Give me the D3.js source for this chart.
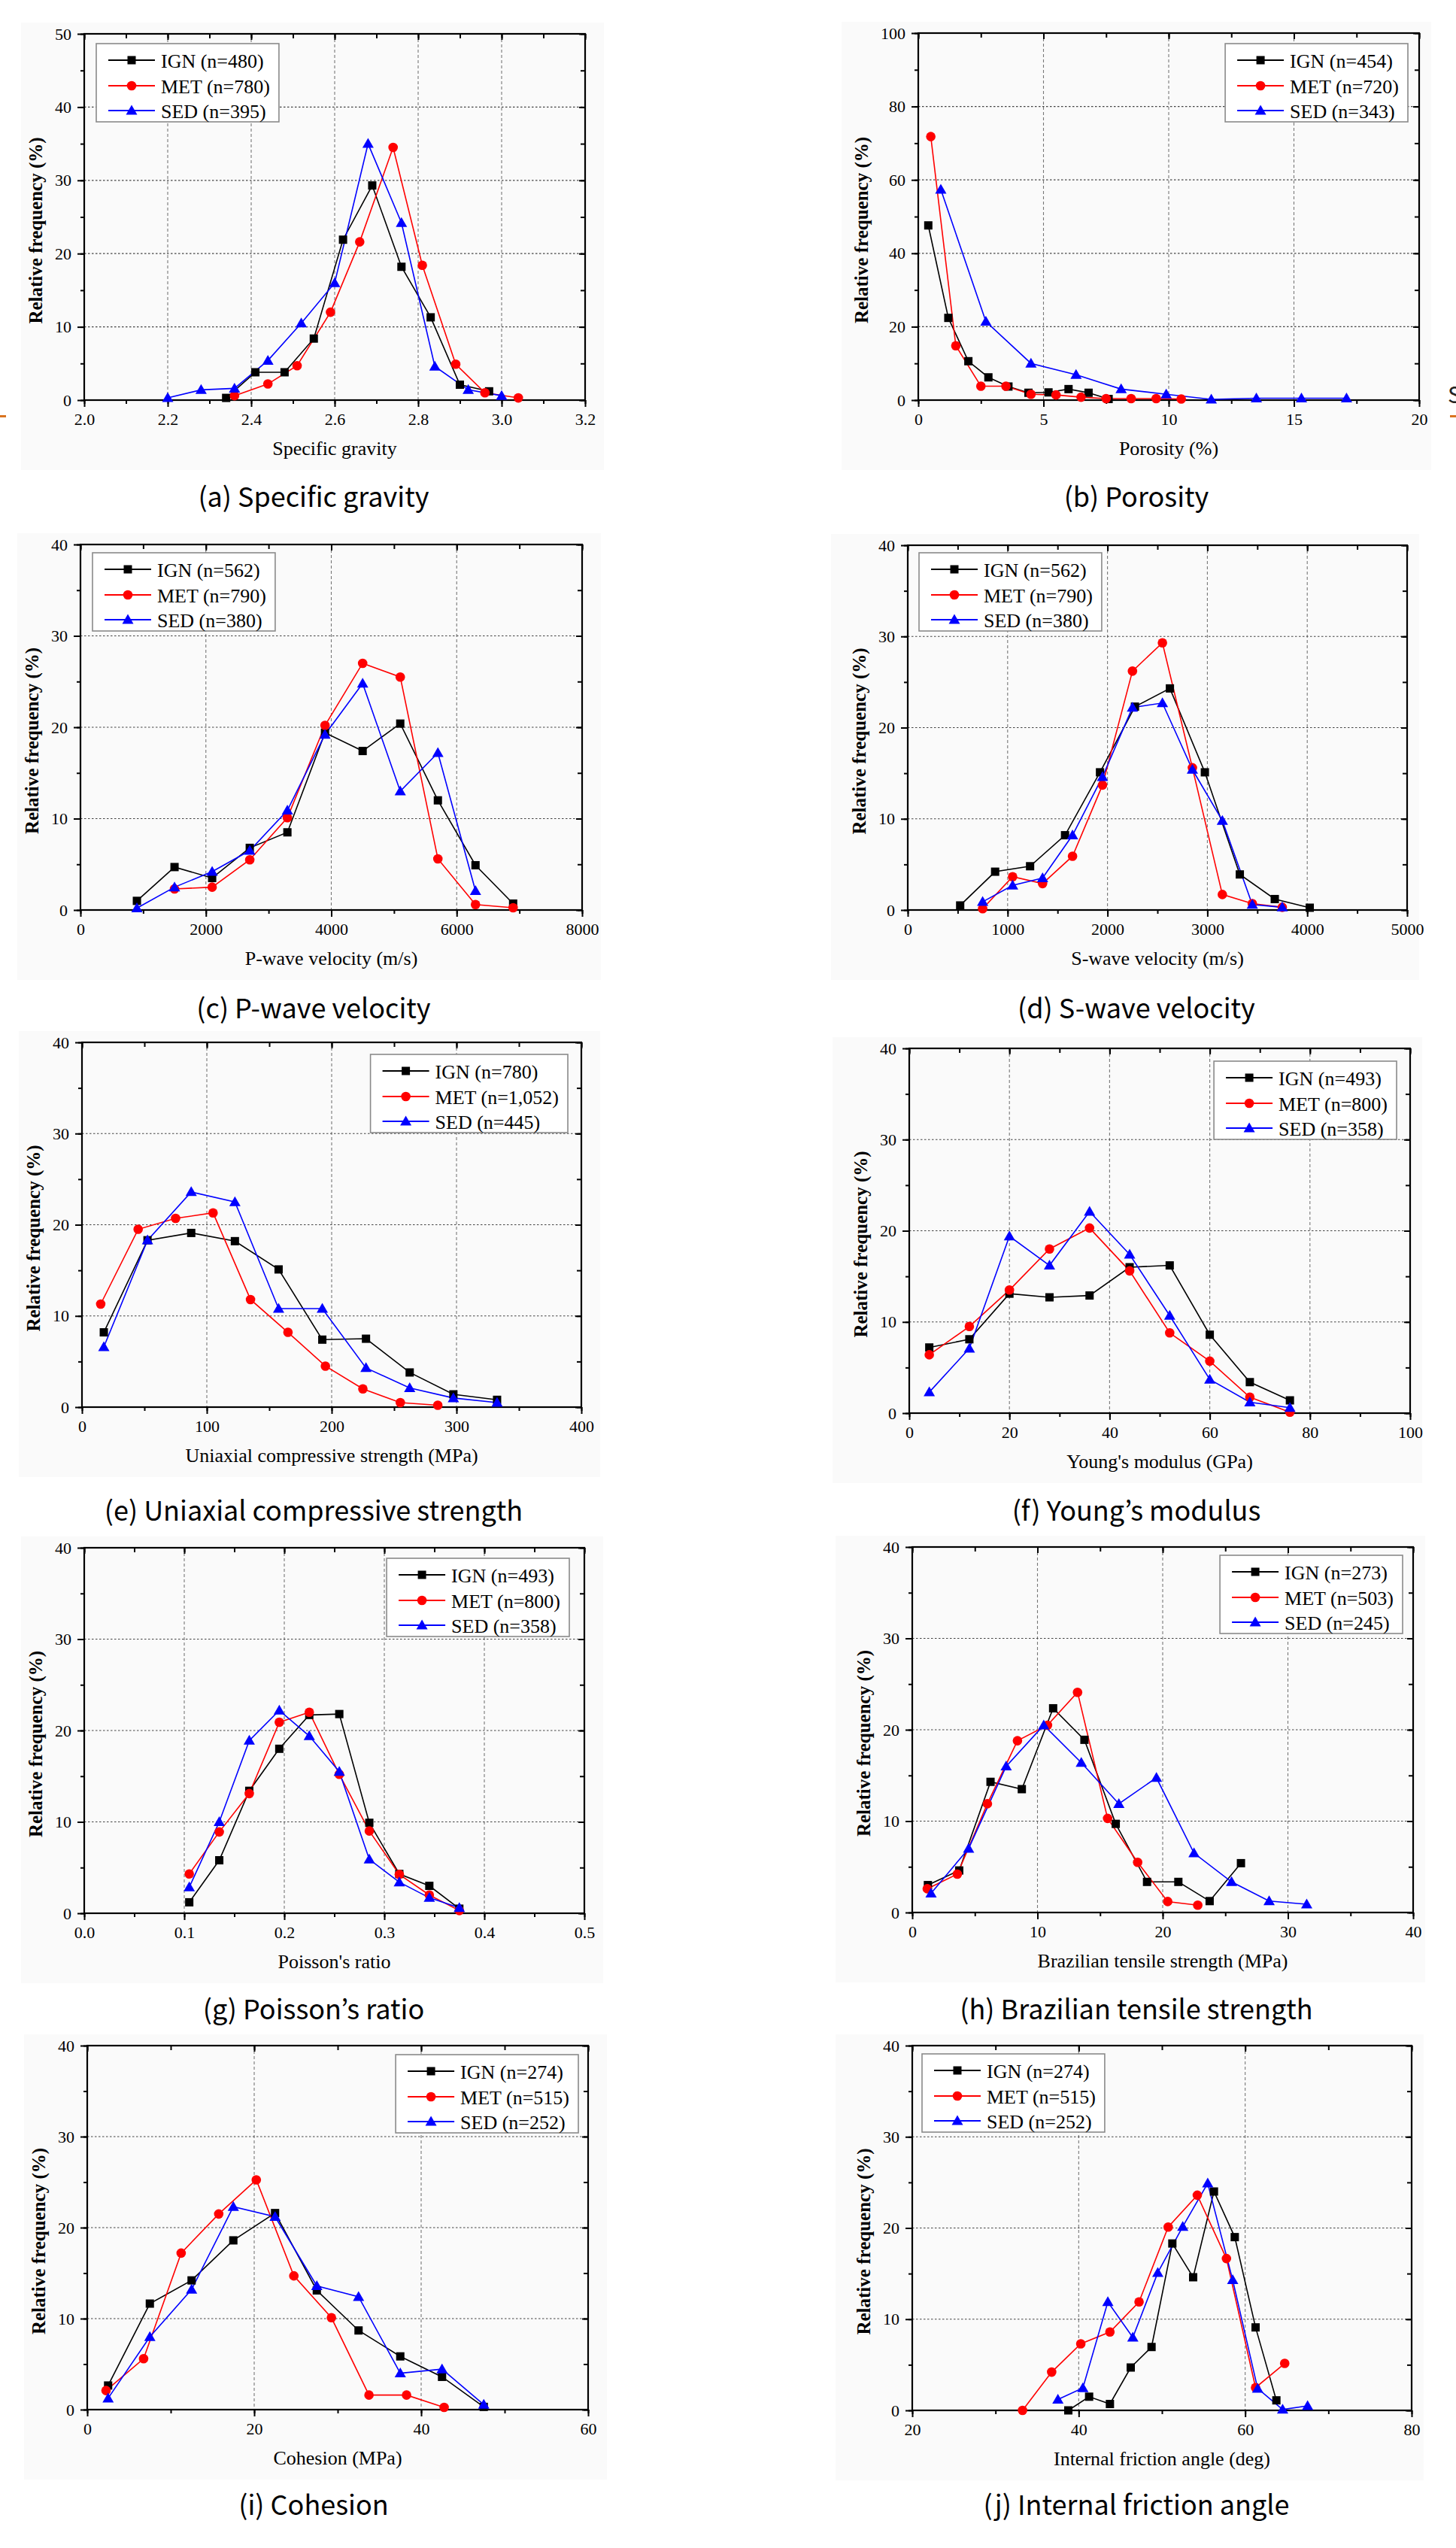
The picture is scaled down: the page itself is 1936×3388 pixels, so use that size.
<!DOCTYPE html>
<html><head><meta charset="utf-8">
<script src="https://cdn.jsdelivr.net/npm/d3@7"></script>
<style>html,body{margin:0;padding:0;background:#fff;} svg{display:block}</style>
</head><body><svg id="chart" width="1936" height="3388"></svg>
<script>
// ---------------- DATA ----------------
const seriesNames = ["IGN", "MET", "SED"];

// (a) Specific gravity
const sg_n = [480, 780, 395];
const sg_IGN = [[2.34,0.3],[2.41,3.8],[2.48,3.8],[2.55,8.4],[2.62,21.9],[2.69,29.3],[2.76,18.2],[2.83,11.3],[2.90,2.1],[2.97,1.2]];
const sg_MET = [[2.36,0.6],[2.44,2.2],[2.51,4.7],[2.59,12.0],[2.66,21.6],[2.74,34.5],[2.81,18.4],[2.89,4.9],[2.96,1.0],[3.04,0.3]];
const sg_SED = [[2.20,0.3],[2.28,1.4],[2.36,1.6],[2.44,5.4],[2.52,10.5],[2.60,16.0],[2.68,35.0],[2.76,24.2],[2.84,4.6],[2.92,1.4],[3.00,0.6]];
const sg_xticks = [2.0,2.2,2.4,2.6,2.8,3.0,3.2];
const sg_yticks = [0,10,20,30,40,50];

// (b) Porosity
const po_n = [454, 720, 343];
const po_IGN = [[0.4,47.6],[1.2,22.4],[2.0,10.6],[2.8,6.2],[3.6,3.7],[4.4,2.0],[5.2,2.1],[6.0,3.0],[6.8,2.0],[7.6,0.3]];
const po_MET = [[0.5,71.8],[1.5,14.8],[2.5,3.8],[3.5,3.8],[4.5,1.6],[5.5,1.4],[6.5,0.8],[7.5,0.4],[8.5,0.4],[9.5,0.4],[10.5,0.3]];
const po_SED = [[0.9,57.4],[2.7,21.4],[4.5,10.0],[6.3,6.9],[8.1,3.0],[9.9,1.6],[11.7,0.2],[13.5,0.5],[15.3,0.5],[17.1,0.5]];
const po_xticks = [0,5,10,15,20];
const po_yticks = [0,20,40,60,80,100];

// (c) P-wave velocity
const vp_n = [562, 790, 380];
const vp_IGN = [[900,1.0],[1500,4.7],[2100,3.5],[2700,6.8],[3300,8.5],[3900,19.4],[4500,17.4],[5100,20.4],[5700,12.0],[6300,4.9],[6900,0.7]];
const vp_MET = [[1500,2.3],[2100,2.5],[2700,5.5],[3300,10.1],[3900,20.2],[4500,27.0],[5100,25.5],[5700,5.6],[6300,0.6],[6900,0.25]];
const vp_SED = [[900,0.2],[1500,2.5],[2100,4.2],[2700,6.5],[3300,10.9],[3900,19.2],[4500,24.8],[5100,13.0],[5700,17.2],[6300,2.1]];
const vp_xticks = [0,2000,4000,6000,8000];
const vp_yticks = [0,10,20,30,40];

// (d) S-wave velocity
const vs_n = [562, 790, 380];
const vs_IGN = [[525,0.5],[875,4.2],[1225,4.8],[1575,8.2],[1925,15.1],[2275,22.3],[2625,24.3],[2975,15.1],[3325,3.9],[3675,1.2],[4025,0.25]];
const vs_MET = [[750,0.15],[1050,3.65],[1350,2.9],[1650,5.9],[1950,13.7],[2250,26.2],[2550,29.3],[2850,15.6],[3150,1.7],[3450,0.7],[3750,0.3]];
const vs_SED = [[750,0.9],[1050,2.7],[1350,3.5],[1650,8.2],[1950,14.6],[2250,22.2],[2550,22.7],[2850,15.4],[3150,9.8],[3450,0.6],[3750,0.3]];
const vs_xticks = [0,1000,2000,3000,4000,5000];
const vs_yticks = [0,10,20,30,40];

// (e) Uniaxial compressive strength
const ucs_n = ["780", "1,052", "445"];
const ucs_IGN = [[17.5,8.2],[52.5,18.3],[87.5,19.1],[122.5,18.2],[157.5,15.1],[192.5,7.4],[227.5,7.5],[262.5,3.8],[297.5,1.4],[332.5,0.8]];
const ucs_MET = [[15,11.3],[45,19.5],[75,20.7],[105,21.3],[135,11.8],[165,8.2],[195,4.5],[225,2.0],[255,0.5],[285,0.2]];
const ucs_SED = [[17.5,6.6],[52.5,18.3],[87.5,23.6],[122.5,22.5],[157.5,10.8],[192.5,10.8],[227.5,4.3],[262.5,2.1],[297.5,1.0],[332.5,0.5]];
const ucs_xticks = [0,100,200,300,400];
const ucs_yticks = [0,10,20,30,40];

// (f) Young's modulus
const ym_n = [493, 800, 358];
const ym_IGN = [[4,7.2],[12,8.1],[20,13.1],[28,12.7],[36,12.9],[44,16.0],[52,16.2],[60,8.6],[68,3.4],[76,1.4]];
const ym_MET = [[4,6.4],[12,9.5],[20,13.5],[28,18.0],[36,20.3],[44,15.6],[52,8.8],[60,5.7],[68,1.75],[76,0.1]];
const ym_SED = [[4,2.3],[12,7.1],[20,19.4],[28,16.2],[36,22.1],[44,17.4],[52,10.7],[60,3.7],[68,1.2],[76,0.6]];
const ym_xticks = [0,20,40,60,80,100];
const ym_yticks = [0,10,20,30,40];

// (g) Poisson's ratio
const pr_n = [493, 800, 358];
const pr_IGN = [[0.105,1.2],[0.135,5.8],[0.165,13.4],[0.195,18.0],[0.225,21.7],[0.255,21.8],[0.285,9.9],[0.315,4.3],[0.345,3.0],[0.375,0.5]];
const pr_MET = [[0.105,4.3],[0.135,8.9],[0.165,13.1],[0.195,20.9],[0.225,22.0],[0.255,15.2],[0.285,9.0],[0.315,4.25],[0.345,2.0],[0.375,0.3]];
const pr_SED = [[0.105,2.85],[0.135,10.0],[0.165,18.9],[0.195,22.2],[0.225,19.4],[0.255,15.5],[0.285,5.9],[0.315,3.4],[0.345,1.7],[0.375,0.6]];
const pr_xticks = [0.0,0.1,0.2,0.3,0.4,0.5];
const pr_yticks = [0,10,20,30,40];

// (h) Brazilian tensile strength
const bts_n = [273, 503, 245];
const bts_IGN = [[1.25,3.0],[3.75,4.6],[6.25,14.3],[8.75,13.5],[11.25,22.35],[13.75,18.9],[16.25,9.7],[18.75,3.35],[21.25,3.35],[23.75,1.25],[26.25,5.4]];
const bts_MET = [[1.2,2.6],[3.6,4.2],[6.0,11.9],[8.4,18.8],[10.8,20.5],[13.2,24.1],[15.6,10.3],[18.0,5.5],[20.4,1.2],[22.8,0.8]];
const bts_SED = [[1.5,2.1],[4.5,7.0],[7.5,16.0],[10.5,20.5],[13.5,16.4],[16.5,11.9],[19.5,14.75],[22.5,6.5],[25.5,3.35],[28.5,1.25],[31.5,0.9]];
const bts_xticks = [0,10,20,30,40];
const bts_yticks = [0,10,20,30,40];

// (i) Cohesion
const co_n = [274, 515, 252];
const co_IGN = [[2.5,2.65],[7.5,11.65],[12.5,14.2],[17.5,18.6],[22.5,21.6],[27.5,13.1],[32.5,8.7],[37.5,5.85],[42.5,3.6],[47.5,0.3]];
const co_MET = [[2.25,2.1],[6.75,5.6],[11.25,17.2],[15.75,21.5],[20.25,25.25],[24.75,14.7],[29.25,10.1],[33.75,1.6],[38.25,1.6],[42.75,0.25]];
const co_SED = [[2.5,1.25],[7.5,8.0],[12.5,13.2],[17.5,22.3],[22.5,21.2],[27.5,13.6],[32.5,12.4],[37.5,4.0],[42.5,4.45],[47.5,0.55]];
const co_xticks = [0,20,40,60];
const co_yticks = [0,10,20,30,40];

// (j) Internal friction angle
const fa_n = [274, 515, 252];
const fa_IGN = [[38.75,0],[41.25,1.5],[43.75,0.7],[46.25,4.7],[48.75,6.95],[51.25,18.3],[53.75,14.6],[56.25,24.0],[58.75,19.0],[61.25,9.1],[63.75,1.1]];
const fa_MET = [[33.25,0],[36.75,4.2],[40.25,7.3],[43.75,8.6],[47.25,11.9],[50.75,20.1],[54.25,23.6],[57.75,16.65],[61.25,2.5],[64.75,5.15]];
const fa_SED = [[37.5,1.2],[40.5,2.45],[43.5,11.9],[46.5,8.0],[49.5,15.1],[52.5,20.15],[55.5,24.9],[58.5,14.3],[61.5,2.4],[64.5,0.1],[67.5,0.5]];
const fa_xticks = [20,40,60,80];
const fa_yticks = [0,10,20,30,40];

const xTitles = ["Specific gravity","Porosity (%)","P-wave velocity (m/s)","S-wave velocity (m/s)",
  "Uniaxial compressive strength (MPa)","Young's modulus (GPa)","Poisson's ratio",
  "Brazilian tensile strength (MPa)","Cohesion (MPa)","Internal friction angle (deg)"];
const captions = ["(a) Specific gravity","(b) Porosity","(c) P-wave velocity","(d) S-wave velocity",
  "(e) Uniaxial compressive strength","(f) Young\u2019s modulus","(g) Poisson\u2019s ratio",
  "(h) Brazilian tensile strength","(i) Cohesion","(j) Internal friction angle"];

// ---------------- LAYOUT / STYLE ----------------
const SERIF = "'Liberation Serif','Times New Roman',serif";
const SANS = "'Noto Sans CJK KR','Noto Sans',sans-serif";
const colors = {IGN:"#000000", MET:"#ff0000", SED:"#0000ff"};

const panels = [
  {rect:[112,45,778,532],  xt:sg_xticks,  yt:sg_yticks,  minorX:0.1,  minorY:5,  fmt:".1f", s:[sg_IGN,sg_MET,sg_SED],   n:sg_n,  leg:["L",16,13], cap:142},
  {rect:[1221,44,1887,532],xt:po_xticks,  yt:po_yticks,  minorX:2.5,  minorY:10, fmt:"d",   s:[po_IGN,po_MET,po_SED],   n:po_n,  leg:["R",15,14], cap:142},
  {rect:[107,724,774,1210],xt:vp_xticks,  yt:vp_yticks,  minorX:1000, minorY:5,  fmt:"d",   s:[vp_IGN,vp_MET,vp_SED],   n:vp_n,  leg:["L",16,11], cap:144},
  {rect:[1207,725,1871,1210],xt:vs_xticks,yt:vs_yticks,  minorX:500,  minorY:5,  fmt:"d",   s:[vs_IGN,vs_MET,vs_SED],   n:vs_n,  leg:["L",15,10], cap:144},
  {rect:[109,1386,773,1871],xt:ucs_xticks,yt:ucs_yticks, minorX:50,   minorY:5,  fmt:"d",   s:[ucs_IGN,ucs_MET,ucs_SED],n:ucs_n, leg:["R",18,16], cap:151},
  {rect:[1209,1394,1875,1879],xt:ym_xticks,yt:ym_yticks, minorX:10,   minorY:5,  fmt:"d",   s:[ym_IGN,ym_MET,ym_SED],   n:ym_n,  leg:["R",18,17], cap:143},
  {rect:[112,2058,777,2544],xt:pr_xticks, yt:pr_yticks,  minorX:0.05, minorY:5,  fmt:".1f", s:[pr_IGN,pr_MET,pr_SED],   n:pr_n,  leg:["R",20,14], cap:141},
  {rect:[1213,2057,1879,2543],xt:bts_xticks,yt:bts_yticks,minorX:5,   minorY:5,  fmt:"d",   s:[bts_IGN,bts_MET,bts_SED],n:bts_n, leg:["R",14,11], cap:142},
  {rect:[116,2720,782,3204],xt:co_xticks, yt:co_yticks,  minorX:10,   minorY:5,  fmt:"d",   s:[co_IGN,co_MET,co_SED],   n:co_n,  leg:["R",13,12], cap:140},
  {rect:[1213,2720,1877,3205],xt:fa_xticks,yt:fa_yticks, minorX:10,   minorY:5,  fmt:"d",   s:[fa_IGN,fa_MET,fa_SED],   n:fa_n,  leg:["L",13,11], cap:139}
];

const svg = d3.select("#chart");
svg.append("rect").attr("width",1936).attr("height",3388).attr("fill","#fff");

function marker(g, name, x, y) {
  if (name === "IGN") {
    g.append("rect").attr("x",x-5.5).attr("y",y-5.5).attr("width",11).attr("height",11).attr("fill",colors.IGN);
  } else if (name === "MET") {
    g.append("circle").attr("cx",x).attr("cy",y).attr("r",6.3).attr("fill",colors.MET);
  } else {
    g.append("path").attr("d",`M${x},${y-7.5}L${x+7.5},${y+5.5}L${x-7.5},${y+5.5}Z`).attr("fill",colors.SED);
  }
}

function range(a, b, step) {
  const out = []; const k = Math.round((b - a) / step);
  for (let i = 0; i <= k; i++) out.push(+(a + i * step).toFixed(6));
  return out;
}

panels.forEach((p, i) => {
  const [L, T, R, B] = p.rect;
  const W = R - L, H = B - T;
  const leftCol = (i % 2 === 0);
  // faint figure background
  const bgL = leftCol ? L - 84 : L - 102, bgR = leftCol ? R + 25 : R + 16;
  svg.append("rect").attr("x",bgL).attr("y",T-15).attr("width",bgR-bgL).attr("height",H+108).attr("fill","#fafafa");

  const x = d3.scaleLinear().domain([p.xt[0], p.xt[p.xt.length-1]]).range([L, R]);
  const y = d3.scaleLinear().domain([p.yt[0], p.yt[p.yt.length-1]]).range([B, T]);
  const g = svg.append("g");

  // grid
  p.xt.slice(1, -1).forEach(v => {
    g.append("line").attr("x1",x(v)).attr("x2",x(v)).attr("y1",T).attr("y2",B)
      .attr("stroke","#777").attr("stroke-width",1.1).attr("stroke-dasharray","4,3");
  });
  p.yt.slice(1, -1).forEach(v => {
    g.append("line").attr("x1",L).attr("x2",R).attr("y1",y(v)).attr("y2",y(v))
      .attr("stroke","#444").attr("stroke-width",1.2).attr("stroke-dasharray","2.5,2.5");
  });

  // minor ticks
  const xMinor = range(p.xt[0], p.xt[p.xt.length-1], p.minorX);
  const yMinor = range(p.yt[0], p.yt[p.yt.length-1], p.minorY);
  const styleAxis = sel => { sel.select(".domain").remove(); sel.selectAll("line").attr("stroke","#000").attr("stroke-width",2); };
  g.append("g").attr("transform",`translate(0,${B})`).call(d3.axisBottom(x).tickValues(xMinor).tickSize(5).tickFormat("")).call(styleAxis);
  g.append("g").attr("transform",`translate(0,${T})`).call(d3.axisTop(x).tickValues(xMinor).tickSize(-6).tickFormat("")).call(styleAxis);
  g.append("g").attr("transform",`translate(${L},0)`).call(d3.axisLeft(y).tickValues(yMinor).tickSize(5).tickFormat("")).call(styleAxis);
  g.append("g").attr("transform",`translate(${R},0)`).call(d3.axisRight(y).tickValues(yMinor).tickSize(-6).tickFormat("")).call(styleAxis);

  // major ticks + labels
  const fmt = d3.format(p.fmt);
  const xa = g.append("g").attr("transform",`translate(0,${B})`).call(d3.axisBottom(x).tickValues(p.xt).tickSize(9).tickPadding(8).tickFormat(fmt)).call(styleAxis);
  const ya = g.append("g").attr("transform",`translate(${L},0)`).call(d3.axisLeft(y).tickValues(p.yt).tickSize(9).tickPadding(8).tickFormat(d3.format("d"))).call(styleAxis);
  g.append("g").attr("transform",`translate(0,${T})`).call(d3.axisTop(x).tickValues(p.xt).tickSize(-8).tickFormat("")).call(styleAxis);
  g.append("g").attr("transform",`translate(${R},0)`).call(d3.axisRight(y).tickValues(p.yt).tickSize(-8).tickFormat("")).call(styleAxis);
  [xa, ya].forEach(a => a.selectAll("text").attr("font-family",SERIF).attr("font-size",22).attr("fill","#000"));

  // frame
  g.append("rect").attr("x",L).attr("y",T).attr("width",W).attr("height",H)
    .attr("fill","none").attr("stroke","#000").attr("stroke-width",2.2);

  // series
  const line = d3.line().x(d => x(d[0])).y(d => y(d[1]));
  p.s.forEach((data, k) => {
    const name = seriesNames[k];
    g.append("path").datum(data).attr("d",line).attr("fill","none")
      .attr("stroke",colors[name]).attr("stroke-width",1.6);
  });
  p.s.forEach((data, k) => {
    const name = seriesNames[k];
    data.forEach(d => marker(g, name, x(d[0]), y(d[1])));
  });

  // legend
  const lg = svg.append("g");
  const labels = seriesNames.map((s, k) => `${s} (n=${p.n[k]})`);
  const box = lg.append("rect").attr("fill","#fff").attr("stroke","#8a8a8a").attr("stroke-width",1.6);
  let maxW = 0;
  const rowsY = [22, 56, 89];
  const texts = labels.map((t, k) => {
    const tx = lg.append("text").attr("font-family",SERIF).attr("font-size",26).attr("fill","#000").attr("dy","0.35em").text(t);
    maxW = Math.max(maxW, tx.node().getComputedTextLength());
    return tx;
  });
  const bw = 86 + maxW + 12, bh = 104;
  const bx = p.leg[0] === "L" ? L + p.leg[1] : R - p.leg[1] - bw;
  const by = T + p.leg[2];
  box.attr("x",bx).attr("y",by).attr("width",bw).attr("height",bh);
  seriesNames.forEach((s, k) => {
    const ry = by + rowsY[k];
    lg.append("line").attr("x1",bx+16).attr("x2",bx+78).attr("y1",ry).attr("y2",ry).attr("stroke",colors[s]).attr("stroke-width",1.8);
    marker(lg, s, bx+47, ry);
    texts[k].attr("x",bx+86).attr("y",ry+1);
  });

  // axis titles
  svg.append("text").attr("x",(L+R)/2).attr("y",B+73).attr("text-anchor","middle")
    .attr("font-family",SERIF).attr("font-size",26).attr("fill","#000").text(xTitles[i]);
  const digits = String(p.yt[p.yt.length-1]).length;
  const yx = L - 18 - digits * 10.8 - 25;
  svg.append("text").attr("transform",`translate(${yx},${(T+B)/2+18}) rotate(-90)`)
    .attr("text-anchor","middle").attr("dominant-baseline","central")
    .attr("font-family",SERIF).attr("font-weight","bold").attr("font-size",25).attr("fill","#000")
    .text("Relative frequency (%)");

  // caption
  svg.append("text").attr("x", leftCol ? 417 : 1511).attr("y", B + p.cap).attr("text-anchor","middle")
    .attr("font-family",SANS).attr("font-size",36).attr("fill","#000").text(captions[i]);
});

// stray page fragments at the edges
svg.append("rect").attr("x",0).attr("y",552).attr("width",8).attr("height",3).attr("fill","#d9731f");
svg.append("rect").attr("x",1928).attr("y",552).attr("width",8).attr("height",3).attr("fill","#d9731f");
svg.append("text").attr("x",1925).attr("y",536).attr("font-family",SANS).attr("font-size",30).attr("fill","#222").text("S");
</script>
</body></html>
